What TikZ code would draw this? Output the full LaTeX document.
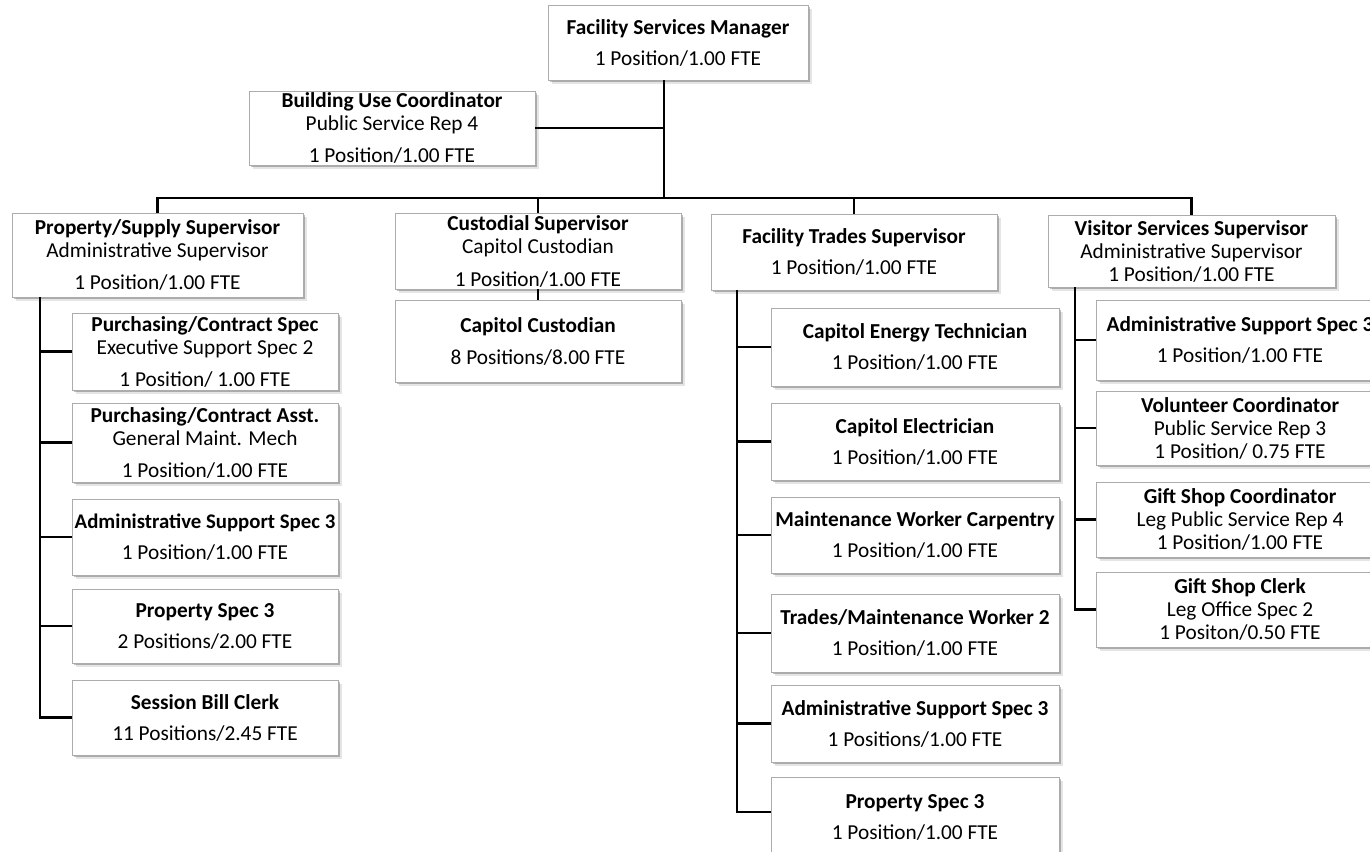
\documentclass[tikz,border=0pt]{standalone}
\usepackage{fontspec}
\setmainfont{Carlito}
\usetikzlibrary{shadows}

\tikzset{
  box/.style={draw=gray!65, line width=0.9pt, fill=white, inner sep=0pt, align=center,
    font=\fontsize{21.3}{23}\selectfont,
    drop shadow={shadow xshift=3.6pt, shadow yshift=-3.6pt, fill=black, opacity=0.10},
    drop shadow={shadow xshift=2pt, shadow yshift=-2pt, fill=black, opacity=0.25}},
  link/.style={line width=2.9pt, draw=black},
}

% \orgbox{name}{left}{top}{right}{bottom}{text}
\newcommand\orgbox[6]{%
  \node[box, minimum width={#4-#2}, minimum height={#5-#3}] (#1)
    at ({(#2+#4)/2},{(#3+#5)/2}) {#6};}

\begin{document}
\begin{tikzpicture}[x=1pt, y=-1pt]
\useasboundingbox (0,0) rectangle (1370,851);
\clip (0,0) rectangle (1370,851);
\fill[white] (0,0) rectangle (1370,851);

% top level
\orgbox{fsm}{548}{5}{808}{80}{\textbf{Facility Services Manager}\\[8pt]1 Position/1.00 FTE}
\orgbox{buc}{249}{91}{535}{165}{\textbf{Building Use Coordinator}\\Public Service Rep 4\\[9pt]1 Position/1.00 FTE}

% supervisors
\orgbox{pss}{12}{213}{303}{297}{\textbf{Property/Supply Supervisor}\\Administrative Supervisor\\[9pt]1 Position/1.00 FTE}
\orgbox{cs}{395}{213}{681}{289}{\textbf{Custodial Supervisor}\\Capitol Custodian\\[10pt]1 Position/1.00 FTE}
\orgbox{cc}{395}{300}{681}{382}{\textbf{Capitol Custodian}\\[9pt]8 Positions/8.00 FTE}
\orgbox{fts}{711}{214}{997}{290}{\textbf{Facility Trades Supervisor}\\[8pt]1 Position/1.00 FTE}
\orgbox{vss}{1048}{215}{1335}{287}{\textbf{Visitor Services Supervisor}\\Administrative Supervisor\\1 Position/1.00 FTE}

% property / supply staff
\orgbox{pcs}{72}{313}{338}{390}{\textbf{Purchasing/Contract Spec}\\Executive Support Spec 2\\[9pt]1 Position/ 1.00 FTE}
\orgbox{pca}{72}{403}{338}{482}{\textbf{Purchasing/Contract Asst.}\\General Maint. Mech\\[9pt]1 Position/1.00 FTE}
\orgbox{lass}{72}{499}{338}{575}{\textbf{\fontsize{20.8}{23}\selectfont Administrative Support Spec 3}\\[8pt]1 Position/1.00 FTE}
\orgbox{lps}{72}{589}{338}{663}{\textbf{Property Spec 3}\\[8pt]2 Positions/2.00 FTE}
\orgbox{sbc}{72}{680}{338}{755}{\textbf{Session Bill Clerk}\\[8pt]11 Positions/2.45 FTE}

% facility trades staff
\orgbox{cet}{771}{308}{1059}{386}{\textbf{Capitol Energy Technician}\\[8pt]1 Position/1.00 FTE}
\orgbox{ce}{771}{403}{1059}{480}{\textbf{Capitol Electrician}\\[8pt]1 Position/1.00 FTE}
\orgbox{mwc}{771}{497}{1059}{573}{\textbf{Maintenance Worker Carpentry}\\[8pt]1 Position/1.00 FTE}
\orgbox{tmw}{771}{594}{1059}{672}{\textbf{Trades/Maintenance Worker 2}\\[8pt]1 Position/1.00 FTE}
\orgbox{mass}{771}{685}{1059}{762}{\textbf{Administrative Support Spec 3}\\[8pt]1 Positions/1.00 FTE}
\orgbox{mps}{771}{777}{1059}{857}{\textbf{Property Spec 3}\\[8pt]1 Position/1.00 FTE}

% visitor services staff
\orgbox{vass}{1096}{300}{1384}{380}{\textbf{Administrative Support Spec 3}\\[8pt]1 Position/1.00 FTE}
\orgbox{vol}{1096}{391}{1384}{465}{\textbf{Volunteer Coordinator}\\Public Service Rep 3\\1 Position/ 0.75 FTE}
\orgbox{gsc}{1096}{482}{1384}{557}{\textbf{Gift Shop Coordinator}\\Leg Public Service Rep 4\\1 Position/1.00 FTE}
\orgbox{gsk}{1096}{572}{1384}{647}{\textbf{Gift Shop Clerk}\\Leg Office Spec 2\\1 Positon/0.50 FTE}

% connectors
\coordinate (mtop) at (664,80);
\coordinate (busy) at (0,198);
\draw[link] (mtop) -- (mtop |- busy);
\draw[link] (buc.east) -- (buc.east -| mtop);
\draw[link] (pss.north) -- (pss.north |- busy) -- (vss.north |- busy) -- (vss.north);
\draw[link] (cs.north) -- (cs.north |- busy);
\draw[link] (fts.north) -- (fts.north |- busy);
\draw[link] (cs.south) -- (cc.north);

\coordinate (lt) at (40,297);
\draw[link] (lt) |- (sbc.west);
\foreach \n in {pcs,pca,lass,lps} \draw[link] (\n.west) -- (\n.west -| lt);

\coordinate (mt) at (737,290);
\draw[link] (mt) |- ([yshift=5pt]mps.west);
\foreach \n in {cet,ce,mwc,tmw,mass} \draw[link] (\n.west) -- (\n.west -| mt);

\coordinate (vt) at (1075,287);
\draw[link] (vt) |- (gsk.west);
\foreach \n in {vass,vol,gsc} \draw[link] (\n.west) -- (\n.west -| vt);
\end{tikzpicture}
\end{document}
